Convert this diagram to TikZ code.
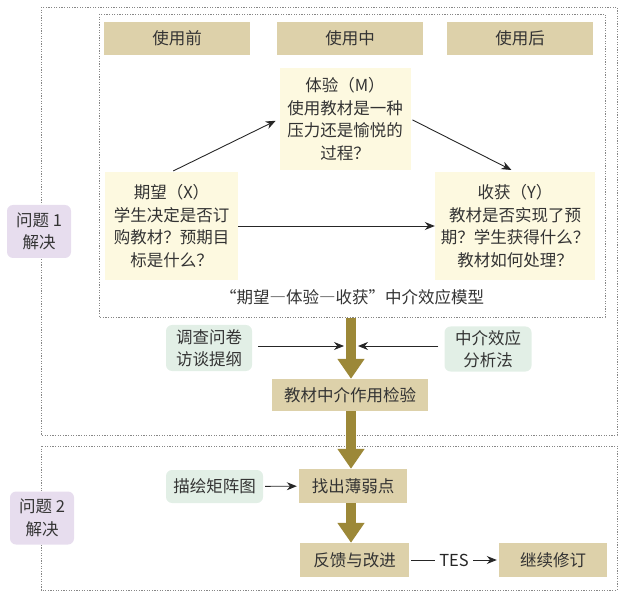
\documentclass[tikz,border=0pt]{standalone}
\usepackage{fontspec}
\setmainfont{Noto Sans CJK SC}
\newfontfamily\fullwidth[RawFeature=+fwid]{Noto Sans CJK SC}
\usetikzlibrary{arrows.meta}

\definecolor{stagetan}{RGB}{221,209,170}
\definecolor{cream}{RGB}{253,249,224}
\definecolor{mint}{RGB}{226,239,230}
\definecolor{lilac}{RGB}{231,221,238}
\definecolor{olive}{RGB}{156,136,56}
\definecolor{framegray}{RGB}{135,135,135}

\begin{document}
\begin{tikzpicture}
      [ x=1pt, y=-1pt
      , font=\fontsize{16.5}{22.5}\selectfont
      , text=black!80
      , stage/.style={fill=stagetan, inner sep=0pt, minimum height=33pt}
      , factor/.style={fill=cream, align=center, inner sep=0pt}
      , method/.style={fill=mint, rounded corners=6pt, align=center, inner sep=0pt}
      , question/.style={fill=lilac, rounded corners=6pt, align=center, inner sep=0pt,
                         minimum width=64pt, minimum height=53pt}
      , frame/.style={framegray, dash pattern=on 1.2pt off 1.4pt, line width=0.8pt}
      , direct/.style={black!85, draw, line width=0.9pt, -{Stealth[length=10pt,width=8pt]}}
      , flow/.style={olive, draw, line width=10pt, -{Triangle[length=20pt,width=26pt]}}
      ]
    \useasboundingbox (0,0) rectangle (618,593);

    % frames
    \draw[frame] (41,7) rectangle (617,435);
    \draw[frame] (99,14) rectangle (605,317);
    \draw[frame] (41,446) rectangle (617,590);

    \node[question] (Q1) at (39,231.5) {问题 1\\解决};
    \node[question] (Q2) at (42,518) {问题 2\\解决};

    \node[stage, minimum width=146pt] (pre)  at (177,38.5) {使用前};
    \node[stage, minimum width=146pt] (mid)  at (350,38.5) {使用中};
    \node[stage, minimum width=146pt] (post) at (520,38.5) {使用后};

    \node[factor, minimum width=131pt, minimum height=102pt] (M) at (345,119)
      {体验（M）\\使用教材是一种\\压力还是愉悦的\\过程？};
    \node[factor, minimum width=133pt, minimum height=108pt] (X) at (171.5,226)
      {期望（X）\\学生决定是否订\\购教材？预期目\\标是什么？};
    \node[factor, minimum width=160pt, minimum height=108pt] (Y) at (515,226)
      {收获（Y）\\教材是否实现了预\\期？学生获得什么？\\教材如何处理？};

    \node (model) at (352,297) {\fullwidth “期望—体验—收获”中介效应模型};

    \path
    (X.north) edge[direct, shorten >=4pt, shorten <=2pt] (M.west)
    (M.east) edge[direct, shorten >=4pt, shorten <=2pt] (Y.north)
    (X.east) edge[direct] (Y.west);

    \node[method, minimum width=86pt, minimum height=46pt] (survey) at (209,348)
      {调查问卷\\访谈提纲};
    \node[method, minimum width=87pt, minimum height=45pt] (analysis) at (488,349)
      {中介效应\\分析法};
    \node[stage, minimum width=156pt, minimum height=32pt] (test) at (350,395)
      {教材中介作用检验};
    \node[method, minimum width=97pt, minimum height=33pt] (matrix) at (214.5,486.5)
      {描绘矩阵图};
    \node[stage, minimum width=108pt, minimum height=34pt] (weak) at (353,486)
      {找出薄弱点};
    \node[stage, minimum width=109pt, minimum height=34pt] (feedback) at (354.5,560)
      {反馈与改进};
    \node[stage, minimum width=108pt, minimum height=34pt] (revise) at (553,560)
      {继续修订};

    \coordinate (modelbottom) at (351,318);
    \coordinate (inL) at (344,346);
    \coordinate (inR) at (358,346);

    \path
    (modelbottom) edge[flow] (modelbottom |- test.north)
    (modelbottom |- test.south) edge[flow] (modelbottom |- weak.north)
    (modelbottom |- weak.south) edge[flow] (modelbottom |- feedback.north);

    \path
    (survey.east |- inL) edge[direct, shorten <=6pt] (inL)
    (analysis.west |- inR) edge[direct, shorten <=6pt] (inR)
    (matrix) edge[direct, shorten <=2pt, shorten >=2pt] (weak);

    \draw[direct, shorten <=2pt, shorten >=2pt]
    (feedback) -- node[fill=white, inner xsep=4pt, inner ysep=0pt] (tes) {TES} (revise);

  \end{tikzpicture}
\end{document}
